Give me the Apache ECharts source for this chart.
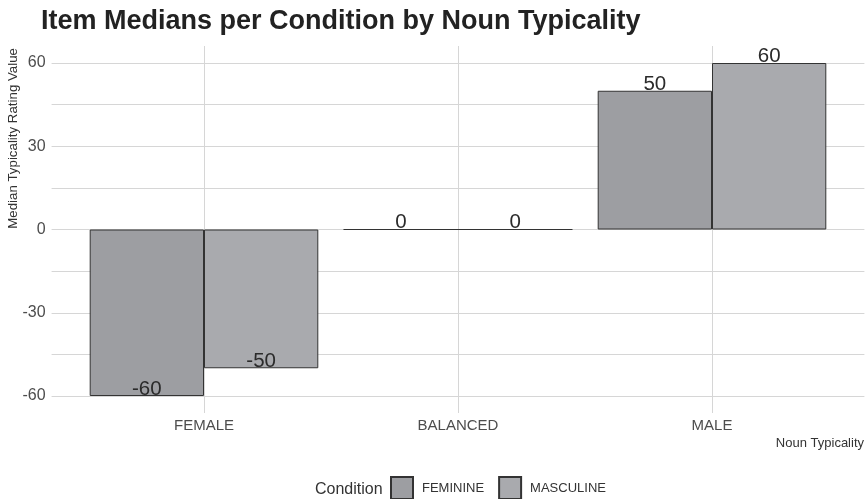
<!DOCTYPE html>
<html>
<head>
<meta charset="utf-8">
<script src="https://cdn.jsdelivr.net/npm/echarts@6/dist/echarts.min.js"></script>
<style>
  html, body { margin: 0; padding: 0; background: #ffffff; }
  #chart { width: 865px; height: 499px; }
</style>
</head>
<body>
<div id="chart"></div>
<script>
// Noun typicality groups on the x axis
const categories = ['FEMALE', 'BALANCED', 'MALE'];
// Median typicality rating per condition
const feminineValues = [-60, 0, 50];
const masculineValues = [-50, 0, 60];
// Y axis tick labels (every 30, minor gridlines every 15)
const yTickLabels = [-60, -30, 0, 30, 60];

const FONT = '"Liberation Sans", Arial, Helvetica, sans-serif';
const GRID_COLOR = '#d6d6d6';

// Value labels sit with their baseline on the end of each bar
function barItems(values) {
  return values.map(v => ({
    value: v,
    label: { position: v < 0 ? 'insideBottom' : 'top', distance: -4 }
  }));
}

const chart = echarts.init(document.getElementById('chart'), null, { renderer: 'canvas' });

const barLabel = {
  show: true,
  color: '#2b2b2b',
  fontSize: 20.5,
  fontFamily: FONT
};

chart.setOption({
  backgroundColor: '#ffffff',
  animation: false,
  title: [
    {
      text: 'Item Medians per Condition by Noun Typicality',
      left: 41, top: 8, padding: 0,
      textStyle: { fontFamily: FONT, fontWeight: 'bold', fontSize: 27, color: '#222222' }
    },
    {
      text: 'Noun Typicality',
      right: 1, top: 437, padding: 0,
      textStyle: { fontFamily: FONT, fontWeight: 'normal', fontSize: 13, color: '#333333' }
    },
    {
      text: 'Condition',
      left: 315, top: 482, padding: 0,
      textStyle: { fontFamily: FONT, fontWeight: 'normal', fontSize: 16, color: '#333333' }
    }
  ],
  graphic: [{
    type: 'text',
    left: 7, top: 48,
    rotation: Math.PI / 2,
    style: {
      text: 'Median Typicality Rating Value',
      font: '13.3px ' + FONT,
      fill: '#333333'
    }
  }],
  legend: {
    left: 390, top: 476, padding: 0,
    itemWidth: 22, itemHeight: 22, itemGap: 14,
    icon: 'rect',
    textStyle: { fontFamily: FONT, fontSize: 13, color: '#333333', padding: [0, 0, 0, 4] },
    data: ['FEMININE', 'MASCULINE']
  },
  grid: [
    // bars
    { left: 77, right: 26, top: 63, bottom: 103 },
    // horizontal gridlines and y labels across the full panel width
    { left: 51.6, right: 0.6, top: 63, bottom: 103 },
    // vertical gridlines at the category centres, full panel height
    { left: 204, right: 153, top: 46, bottom: 86 }
  ],
  xAxis: [
    {
      gridIndex: 0, type: 'category', data: categories, boundaryGap: true,
      axisLine: { show: false }, axisTick: { show: false }, splitLine: { show: false },
      axisLabel: { fontFamily: FONT, fontSize: 15, color: '#4d4d4d', margin: 22 }
    },
    {
      gridIndex: 1, type: 'value', min: 0, max: 1, show: false
    },
    {
      gridIndex: 2, type: 'value', min: 0, max: 2, interval: 1,
      axisLine: { show: false }, axisTick: { show: false }, axisLabel: { show: false },
      splitLine: { show: true, showMinLine: true, showMaxLine: true, lineStyle: { color: GRID_COLOR, width: 1 } }
    }
  ],
  yAxis: [
    {
      gridIndex: 0, type: 'value', min: -60, max: 60, interval: 15,
      axisLine: { show: false }, axisTick: { show: false },
      axisLabel: { show: false }, splitLine: { show: false }
    },
    {
      gridIndex: 1, type: 'value', min: -60, max: 60, interval: 15,
      axisLine: { show: false }, axisTick: { show: false },
      axisLabel: {
        fontFamily: FONT, fontSize: 16, color: '#4d4d4d', margin: 6,
        formatter: v => (yTickLabels.indexOf(v) >= 0 ? String(v) : '')
      },
      splitLine: { show: true, lineStyle: { color: GRID_COLOR, width: 1 } }
    },
    {
      gridIndex: 2, type: 'value', min: 0, max: 1, show: false
    }
  ],
  series: [
    {
      name: 'FEMININE', type: 'bar', xAxisIndex: 0, yAxisIndex: 0,
      barWidth: 114.3, barGap: '0%', z: 5,
      itemStyle: { color: '#9d9ea2', borderColor: '#333333', borderWidth: 1 },
      label: barLabel,
      data: barItems(feminineValues)
    },
    {
      name: 'MASCULINE', type: 'bar', xAxisIndex: 0, yAxisIndex: 0,
      barWidth: 114.3, barGap: '0%', z: 5,
      itemStyle: { color: '#a9aaae', borderColor: '#333333', borderWidth: 1 },
      label: barLabel,
      data: barItems(masculineValues)
    }
  ]
});
</script>
</body>
</html>
